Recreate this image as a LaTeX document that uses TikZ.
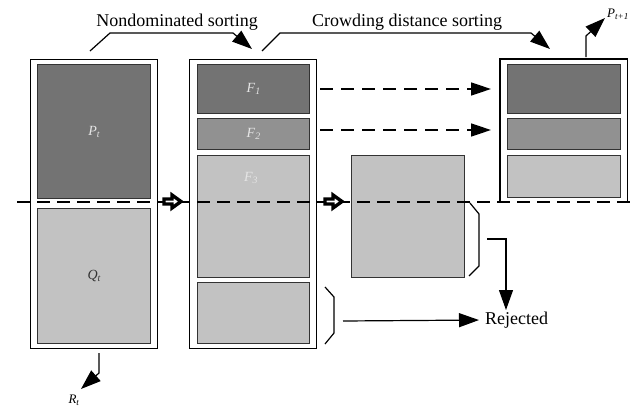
\documentclass[tikz,border=0pt]{standalone}
\usepackage{fontspec}
\setmainfont{Liberation Serif}
\usetikzlibrary{arrows.meta}
\definecolor{dark}{gray}{0.45}
\definecolor{mid}{gray}{0.57}
\definecolor{light}{gray}{0.76}
\definecolor{edge}{gray}{0.2}
\definecolor{wtext}{gray}{0.9}
\begin{document}
\begin{tikzpicture}[x=1pt,y=-1pt,
  outer/.style={draw=black, line width=1.4pt, fill=white, anchor=north west, inner sep=0pt, minimum width=127pt},
  inbox/.style={draw=edge, line width=1.4pt, anchor=north west, inner sep=0pt, minimum width=113pt},
  lbl/.style={font=\fontsize{18}{20}\selectfont, inner sep=0pt},
  blab/.style={font=\fontsize{14}{16}\selectfont\itshape, text=wtext},
  tri/.style={-{Triangle[length=20pt,width=14pt]}, line width=1.2pt},
  dtri/.style={-{Triangle[length=20pt,width=13pt]}, line width=1.6pt, dash pattern=on 13pt off 8pt},
  blockarrow/.style={draw=black, line width=3.4pt, fill=white, line join=miter},
  mainline/.style={line width=2.6pt, dash pattern=on 13pt off 7pt},
  brace/.style={line width=1.2pt}
]
\useasboundingbox (0,0) rectangle (638,407);

% left column
\node[outer, minimum height=289pt] (L) at (30,59) {};
\node[inbox, fill=dark, minimum height=134pt, blab] (P) at (37,64) {P\textsubscript{\itshape t}};
\node[inbox, fill=light, minimum height=135pt, blab, text=edge] (Q) at (37,208) {Q\textsubscript{\itshape t}};

% middle column
\node[outer, minimum height=289pt] (M) at (189,59) {};
\node[inbox, fill=dark, minimum width=112pt, minimum height=49pt, blab] (F1) at (197,64) {F\textsubscript{1}};
\node[inbox, fill=mid, minimum width=112pt, minimum height=31pt, blab] (F2) at (197,118) {F\textsubscript{2}};
\node[inbox, fill=light, minimum width=112pt, minimum height=122pt] (F3) at (197,155) {};
\node[blab] (F3l) at (251,178) {F\textsubscript{3}};
\node[inbox, fill=light, minimum width=112pt, minimum height=61pt] (F4) at (197,282) {};

% crowding box
\node[inbox, fill=light, minimum height=122pt] (C) at (351,155) {};

% right column
\node[anchor=north west, inner sep=0pt, minimum width=127pt, minimum height=143pt] (R) at (500,59) {};
\draw[line width=1.4pt] (R.south west) -- (R.north west) -- (R.north east) -- (R.south east);
\node[inbox, fill=dark, minimum height=49pt] (R1) at (507,64) {};
\node[inbox, fill=mid, minimum height=31pt] (R2) at (507,118) {};
\node[inbox, fill=light, minimum height=42pt] (R3) at (507,155) {};

% main dashed line
\coordinate (ml0) at (17,202);
\coordinate (ml1) at (632,202);
\draw[mainline] (ml0) -- (ml1);

% block arrows
\draw[blockarrow] (164,199) -- (172,199) -- (172,195) -- (181,201.5) -- (172,208) -- (172,204) -- (164,204) -- cycle;
\draw[blockarrow] (325,199) -- (333,199) -- (333,195) -- (342,201.5) -- (333,208) -- (333,204) -- (325,204) -- cycle;

% dashed arrows to next population
\coordinate (d1) at (320,89);
\coordinate (d2) at (320,130);
\draw[dtri, shorten >=16pt] (d1) -- (d1 -| R1.west);
\draw[dtri, shorten >=16pt] (d2) -- (d2 -| R2.west);

% titles
\node[lbl] (nds) at (177,22) {Nondominated sorting};
\node[lbl] (cds) at (407,22) {Crowding distance sorting};
\coordinate (n0) at (90,51);
\coordinate (n1) at (252,49);
\coordinate (c0) at (262,51);
\coordinate (c1) at (550,49);
\draw[tri] (n0) -- (110,33) -- (233,33) -- (n1);
\draw[tri] (c0) -- (280,33) -- (531,33) -- (c1);

% P_{t+1}
\node[font=\fontsize{13}{15}\selectfont\itshape] (Pn) at (618,14) {P\textsubscript{\itshape t+1}};
\coordinate (p0) at (586,57);
\coordinate (p1) at (605,18);
\draw[tri] (p0) -- (586,36) -- (p1);

% R_t
\node[font=\fontsize{13}{15}\selectfont\itshape] (Rt) at (74,400) {R\textsubscript{\itshape t}};
\coordinate (r0) at (99,353);
\coordinate (r1) at (81,389);
\draw[tri] (r0) -- (99,373) -- (r1);

% brackets
\draw[brace] (470,203) -- (479,214) -- (479,266) -- (469,276);
\draw[brace] (325,287) -- (334,297) -- (334,333) -- (325,344);

% rejected
\node[lbl, anchor=west] (rej) at (485,320) {Rejected};
\coordinate (j0) at (487,239);
\coordinate (j1) at (506,310);
\coordinate (k0) at (343,321);
\draw[tri] (j0) -- (506,239) -- (j1);
\draw[tri, shorten >=6pt] (k0) -- (rej.west);
\end{tikzpicture}
\end{document}
